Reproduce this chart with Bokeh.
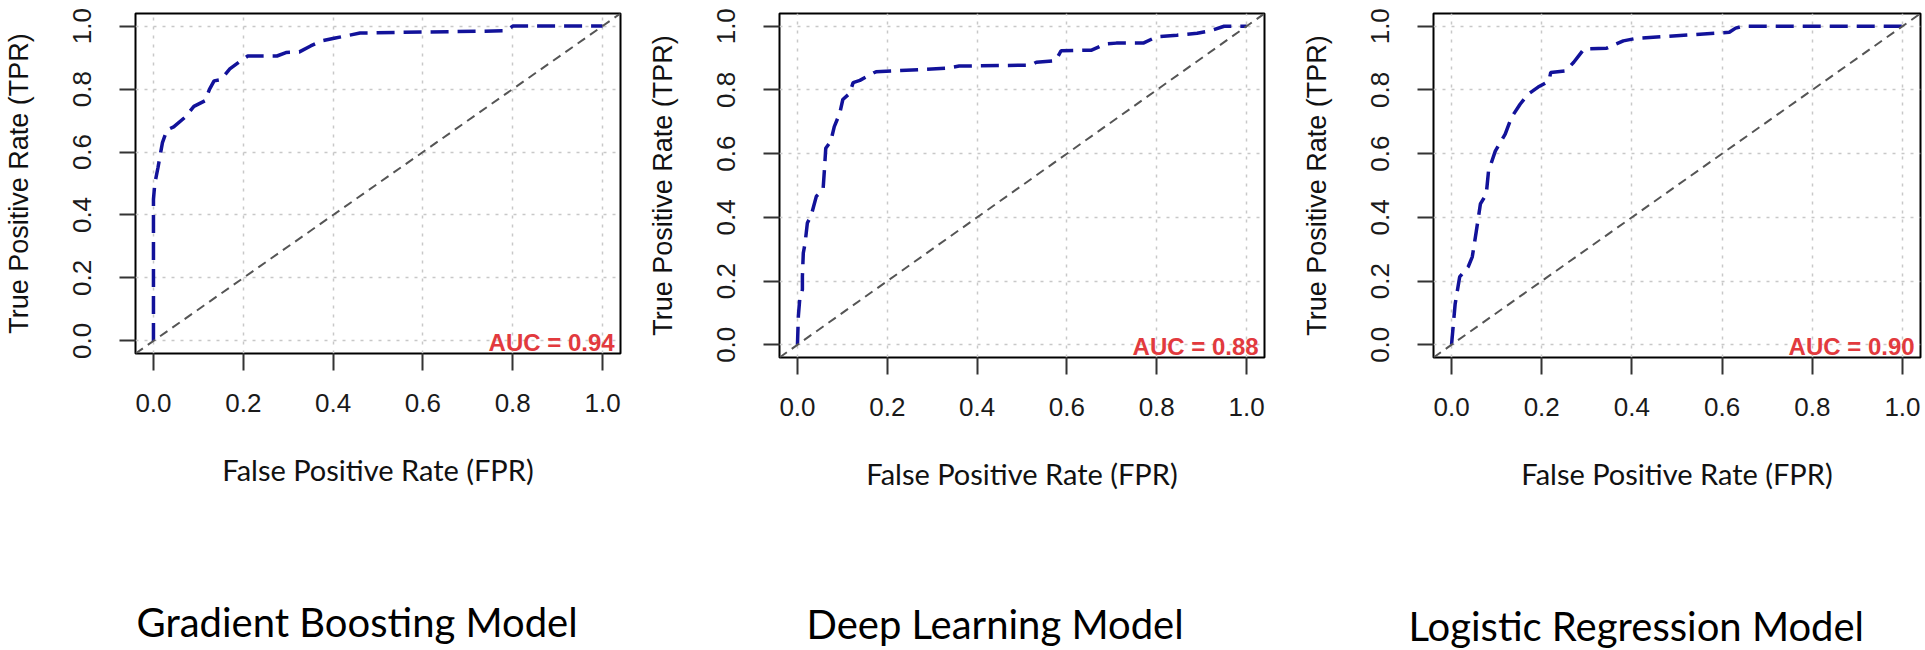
from bokeh.plotting import figure
from bokeh.models import Range1d, FixedTicker, Slope, Label, PrintfTickFormatter, Title
from bokeh.layouts import row
from bokeh.embed import file_html
from bokeh.resources import INLINE

# ---- data ----
model_names = ["Gradient Boosting Model", "Deep Learning Model", "Logistic Regression Model"]
auc_labels = ["AUC = 0.94", "AUC = 0.88", "AUC = 0.90"]
tick_values = [0.0, 0.2, 0.4, 0.6, 0.8, 1.0]

fpr_gb = [0, 0, 0.003, 0.01, 0.02, 0.03, 0.045, 0.07, 0.09, 0.115, 0.125, 0.135, 0.15, 0.17,
          0.19, 0.21, 0.275, 0.295, 0.325, 0.35, 0.375, 0.405, 0.46, 0.785, 0.80, 1.0]
tpr_gb = [0, 0.45, 0.5, 0.55, 0.63, 0.67, 0.68, 0.71, 0.745, 0.763, 0.80, 0.826, 0.83, 0.864,
          0.885, 0.905, 0.905, 0.916, 0.918, 0.937, 0.953, 0.962, 0.978, 0.985, 1.0, 1.0]

fpr_dl = [0, 0.002, 0.005, 0.011, 0.011, 0.013, 0.017, 0.022, 0.031, 0.042, 0.057, 0.06, 0.063,
          0.074, 0.082, 0.094, 0.101, 0.116, 0.124, 0.139, 0.17, 0.175, 0.33, 0.36, 0.52, 0.532,
          0.575, 0.587, 0.655, 0.685, 0.71, 0.77, 0.80, 0.845, 0.89, 0.92, 0.95, 1.0]
tpr_dl = [0, 0.09, 0.142, 0.173, 0.215, 0.288, 0.319, 0.382, 0.408, 0.466, 0.486, 0.549, 0.617,
          0.638, 0.685, 0.726, 0.77, 0.789, 0.823, 0.83, 0.854, 0.857, 0.868, 0.875, 0.878, 0.887,
          0.892, 0.923, 0.925, 0.944, 0.947, 0.947, 0.967, 0.972, 0.978, 0.986, 1.0, 1.0]

fpr_lr = [0, 0.008, 0.018, 0.037, 0.046, 0.055, 0.064, 0.077, 0.082, 0.097, 0.106, 0.119, 0.133,
          0.152, 0.17, 0.192, 0.216, 0.22, 0.253, 0.271, 0.294, 0.344, 0.381, 0.409, 0.616, 0.63,
          0.645, 1.0]
tpr_lr = [0, 0.128, 0.213, 0.245, 0.276, 0.357, 0.442, 0.473, 0.545, 0.608, 0.63, 0.661, 0.714,
          0.755, 0.787, 0.809, 0.828, 0.855, 0.86, 0.887, 0.929, 0.931, 0.954, 0.962, 0.981, 0.994,
          1.0, 1.0]

curves = [(fpr_gb, tpr_gb), (fpr_dl, tpr_dl), (fpr_lr, tpr_lr)]

# ---- layout / style settings ----
# (frame_w, frame_h, border L, border R, border T, border B, spacer standoff, title offset)
panel_layout = [
    (485, 340, 133, 22, 13, 297, 105, 1),
    (485, 344, 137, 28, 11, 295, 103, 27),
    (487, 344, 141, 7, 9, 297, 105, -25),
]

ROC_COLOR = "#12129A"
AUC_COLOR = "#E23A3E"
TICK_FONT = "Liberation Sans"
LABEL_FONT = "Lato"


def make_panel(fpr, tpr, auc_text, title, lay):
    fw, fh, bl, br, bt, bb, sp, toff = lay
    p = figure(frame_width=fw, frame_height=fh,
               min_border_left=bl, min_border_right=br,
               min_border_top=bt, min_border_bottom=bb,
               x_range=Range1d(-0.04, 1.04), y_range=Range1d(-0.04, 1.04),
               output_backend="svg", toolbar_location=None)
    p.background_fill_color = "white"
    p.border_fill_color = "white"
    p.outline_line_color = "black"
    p.outline_line_width = 2
    p.outline_line_alpha = 1.0

    for ax in (p.xaxis[0], p.yaxis[0]):
        ax.ticker = FixedTicker(ticks=tick_values)
        ax.formatter = PrintfTickFormatter(format="%.1f")
        ax.axis_line_color = None
        ax.minor_tick_line_color = None
        ax.major_tick_in = 0
        ax.major_tick_line_color = "#333333"
        ax.major_tick_line_width = 2
        ax.major_label_text_font = TICK_FONT
        ax.major_label_text_font_size = "26px"
        ax.major_label_text_color = "#1a1a1a"
        ax.axis_label_text_font_style = "normal"
        ax.axis_label_text_color = "#111111"

    p.xaxis.major_tick_out = 17
    p.xaxis.major_label_standoff = 23
    p.xaxis.axis_label = "False Positive Rate (FPR)"
    p.xaxis.axis_label_text_font = LABEL_FONT
    p.xaxis.axis_label_text_font_size = "29px"
    p.xaxis.axis_label_standoff = 37

    p.yaxis.major_tick_out = 16
    p.yaxis.major_label_standoff = 28
    p.yaxis.major_label_orientation = "parallel"
    p.yaxis.axis_label = "True Positive Rate (TPR)"
    p.yaxis.axis_label_text_font = TICK_FONT
    p.yaxis.axis_label_text_font_size = "27px"
    p.yaxis.axis_label_standoff = 37

    for g in (p.xgrid[0], p.ygrid[0]):
        g.grid_line_color = "#c8c8c8"
        g.grid_line_dash = "3 6"
        g.grid_line_width = 1.5

    diag = Slope(gradient=1, y_intercept=0, line_color="#555555",
                 line_width=2, line_dash="9 6")
    p.add_layout(diag)

    p.line(fpr, tpr, line_color=ROC_COLOR, line_width=3.5, line_dash="18 9")

    p.add_layout(Label(x=1.027, y=-0.005, text=auc_text, text_align="right",
                       text_baseline="alphabetic", text_font=TICK_FONT,
                       text_font_style="bold", text_font_size="24px",
                       text_color=AUC_COLOR))

    # spacer that pushes the model title further down
    p.add_layout(Title(text=" ", text_font_size="1px", standoff=sp), "below")
    p.add_layout(Title(text=title, align="left", offset=toff, vertical_align="top",
                       standoff=0, text_font=LABEL_FONT, text_font_size="40px",
                       text_font_style="normal", text_color="black"), "below")
    return p


panels = [make_panel(c[0], c[1], a, t, l)
          for c, a, t, l in zip(curves, auc_labels, model_names, panel_layout)]
layout = row(*panels)
layout.spacing = 0

open("out.html", "w").write(file_html(layout, INLINE))
